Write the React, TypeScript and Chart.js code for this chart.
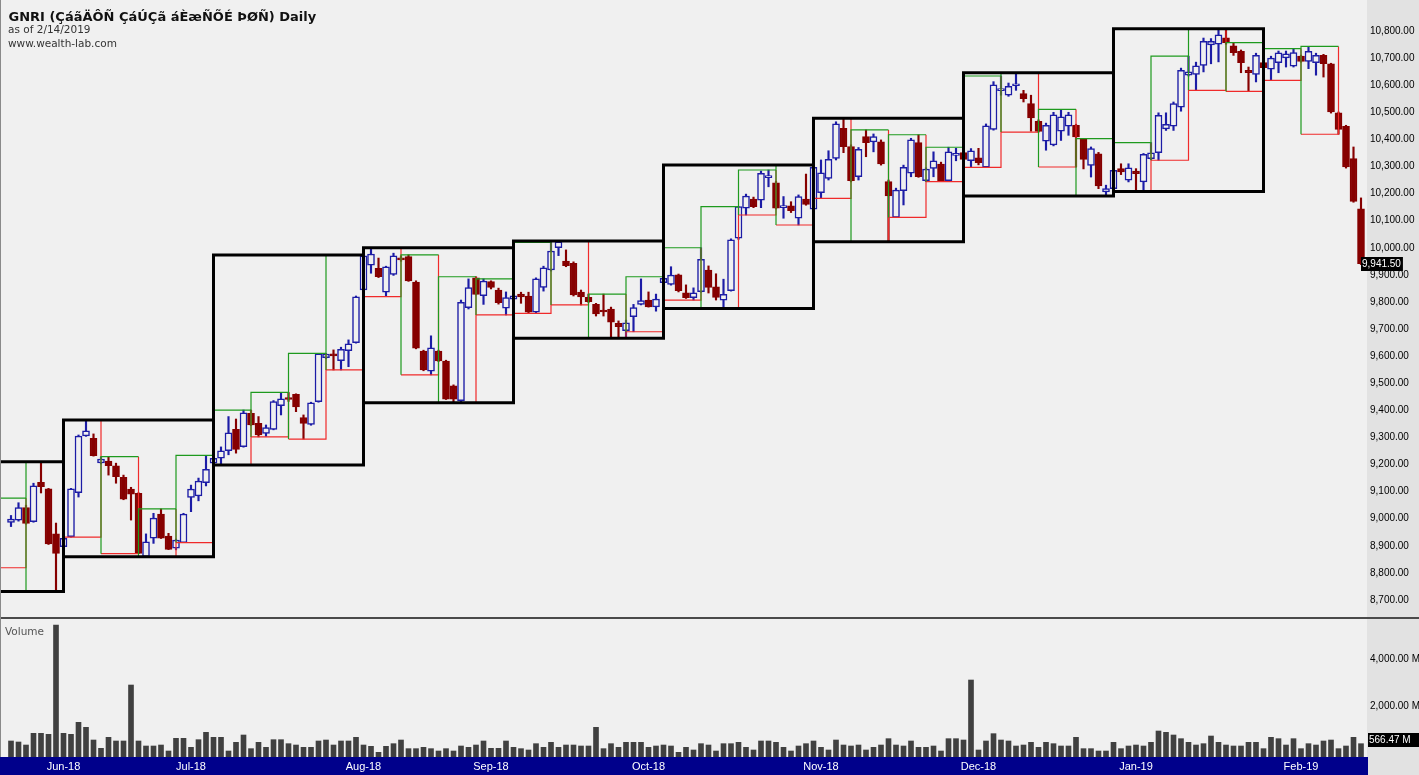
import React, { useEffect, useRef } from "react";
import { Chart, registerables } from "chart.js";

Chart.register(...registerables);

// ---------------- data ----------------
const opens = [
  8986, 8995, 9041, 8989, 9134, 9110, 8944, 8897, 8934, 9096,
  9306, 9297, 9206, 9213, 9195, 9153, 9109, 9094, 8860, 8928,
  9017, 8936, 8891, 8912, 9079, 9084, 9133, 9205, 9223, 9251,
  9330, 9266, 9389, 9352, 9315, 9330, 9417, 9441, 9459, 9373,
  9348, 9432, 9594, 9608, 9583, 9620, 9650, 9844, 9936, 9924,
  9836, 9902, 9961, 9967, 9873, 9619, 9545, 9619, 9582, 9490,
  9436, 9779, 9889, 9823, 9875, 9844, 9777, 9810, 9829, 9822,
  9762, 9854, 9918, 10000, 9951, 9943, 9836, 9817, 9791, 9767,
  9774, 9721, 9694, 9746, 9791, 9807, 9782, 9871, 9865, 9900,
  9834, 9816, 9838, 9918, 9856, 9807, 9842, 10035, 10146, 10180,
  10176, 10259, 10240, 10148, 10155, 10109, 10180, 10142, 10203, 10256,
  10330, 10441, 10373, 10262, 10410, 10391, 10391, 10244, 10112, 10211,
  10275, 10388, 10248, 10293, 10309, 10248, 10341, 10351, 10321, 10332,
  10297, 10437, 10580, 10563, 10598, 10569, 10532, 10467, 10393, 10380,
  10430, 10449, 10452, 10400, 10304, 10347, 10206, 10218, 10292, 10249,
  10283, 10243, 10329, 10351, 10439, 10449, 10519, 10637, 10640, 10673,
  10749, 10751, 10775, 10745, 10725, 10655, 10640, 10683, 10659, 10683,
  10701, 10670, 10707, 10688, 10683, 10710, 10679, 10498, 10448, 10329, 10144,
];
const highs = [
  9012, 9059, 9050, 9131, 9210, 9112, 8984, 8932, 9112, 9309,
  9364, 9313, 9228, 9229, 9205, 9161, 9116, 9096, 8944, 9020,
  9036, 8946, 8925, 9020, 9124, 9150, 9234, 9228, 9265, 9377,
  9368, 9401, 9401, 9377, 9346, 9436, 9464, 9466, 9461, 9383,
  9430, 9610, 9610, 9623, 9633, 9660, 9822, 9973, 10000, 9962,
  9932, 9980, 9970, 9974, 9878, 9622, 9675, 9622, 9585, 9494,
  9807, 9885, 9893, 9885, 9878, 9851, 9837, 9827, 9836, 9836,
  9889, 9932, 10020, 10025, 9992, 9948, 9844, 9829, 9795, 9829,
  9781, 9730, 9733, 9791, 9885, 9837, 9829, 9893, 9930, 9903,
  9863, 9852, 10000, 9933, 9904, 9884, 10033, 10152, 10198, 10187,
  10283, 10287, 10246, 10189, 10170, 10195, 10272, 10305, 10324, 10358,
  10465, 10478, 10380, 10370, 10435, 10420, 10398, 10250, 10220, 10305,
  10404, 10417, 10295, 10354, 10316, 10371, 10367, 10362, 10366, 10367,
  10457, 10613, 10634, 10608, 10646, 10581, 10563, 10472, 10460, 10500,
  10511, 10500, 10456, 10403, 10372, 10352, 10231, 10290, 10310, 10310,
  10292, 10348, 10388, 10498, 10498, 10538, 10663, 10707, 10685, 10774,
  10772, 10804, 10808, 10757, 10730, 10667, 10718, 10692, 10707, 10726,
  10726, 10735, 10711, 10743, 10718, 10714, 10681, 10501, 10452, 10372, 10184,
];
const lows = [
  8971, 8991, 8980, 8987, 9095, 8905, 8731, 8892, 8932, 9080,
  9304, 9231, 9202, 9161, 9131, 9070, 8995, 8871, 8860, 8909,
  8927, 8886, 8885, 8912, 9026, 9066, 9121, 9202, 9198, 9236,
  9242, 9264, 9344, 9302, 9304, 9328, 9383, 9433, 9395, 9294,
  9345, 9430, 9590, 9549, 9549, 9561, 9648, 9840, 9906, 9890,
  9820, 9898, 9950, 9876, 9627, 9546, 9531, 9580, 9440, 9432,
  9428, 9774, 9826, 9791, 9848, 9792, 9752, 9803, 9795, 9758,
  9760, 9840, 9914, 9971, 9930, 9822, 9789, 9798, 9748, 9748,
  9668, 9670, 9666, 9690, 9789, 9781, 9766, 9865, 9862, 9837,
  9813, 9807, 9836, 9833, 9807, 9776, 9840, 10031, 10121, 10148,
  10148, 10225, 10143, 10109, 10130, 10084, 10157, 10140, 10182, 10250,
  10324, 10351, 10243, 10250, 10336, 10354, 10305, 10022, 10112, 10158,
  10262, 10260, 10244, 10262, 10244, 10246, 10321, 10322, 10297, 10306,
  10297, 10434, 10563, 10559, 10581, 10538, 10430, 10427, 10360, 10376,
  10396, 10415, 10298, 10291, 10261, 10218, 10191, 10212, 10270, 10243,
  10212, 10208, 10325, 10323, 10433, 10433, 10504, 10634, 10581, 10649,
  10679, 10686, 10751, 10710, 10646, 10577, 10612, 10661, 10618, 10646,
  10667, 10667, 10685, 10661, 10637, 10630, 10497, 10419, 10294, 10168, 9938,
];
const closes = [
  8999, 9041, 8983, 9121, 9118, 8907, 8872, 8928, 9110, 9305,
  9324, 9233, 9220, 9196, 9155, 9072, 9091, 8872, 8915, 9002,
  8928, 8887, 8921, 9017, 9109, 9139, 9182, 9223, 9251, 9317,
  9256, 9391, 9346, 9309, 9336, 9432, 9442, 9440, 9413, 9352,
  9428, 9609, 9608, 9601, 9625, 9645, 9819, 9970, 9977, 9893,
  9930, 9970, 9955, 9878, 9629, 9549, 9631, 9582, 9441, 9441,
  9799, 9853, 9828, 9877, 9854, 9797, 9816, 9823, 9819, 9762,
  9885, 9926, 9988, 10022, 9934, 9826, 9819, 9801, 9756, 9763,
  9725, 9709, 9723, 9779, 9805, 9782, 9811, 9887, 9899, 9842,
  9816, 9834, 9957, 9854, 9817, 9828, 10029, 10152, 10191, 10152,
  10275, 10262, 10146, 10150, 10137, 10189, 10160, 10297, 10277, 10326,
  10457, 10373, 10248, 10363, 10388, 10410, 10309, 10191, 10213, 10297,
  10398, 10262, 10290, 10321, 10248, 10354, 10342, 10326, 10358, 10314,
  10450, 10601, 10582, 10596, 10600, 10550, 10479, 10429, 10452, 10491,
  10483, 10491, 10409, 10326, 10366, 10228, 10218, 10286, 10280, 10295,
  10273, 10345, 10350, 10489, 10456, 10532, 10655, 10649, 10671, 10762,
  10762, 10786, 10757, 10720, 10683, 10646, 10710, 10665, 10700, 10719,
  10716, 10720, 10688, 10725, 10710, 10679, 10501, 10437, 10298, 10171, 9941.5,
];
// volume in millions
const volumes = [
  681, 638, 510, 1007, 1007, 964, 5616, 1007, 964, 1475,
  1262, 723, 369, 837, 681, 681, 3063, 681, 468, 468,
  510, 255, 794, 794, 411, 737, 1049, 837, 837, 255,
  624, 936, 355, 624, 411, 737, 737, 567, 510, 411,
  411, 681, 723, 510, 681, 681, 837, 510, 454, 199,
  454, 567, 723, 355, 355, 411, 355, 255, 355, 255,
  468, 411, 510, 681, 369, 369, 681, 411, 355, 298,
  567, 411, 624, 411, 510, 510, 468, 468, 1262, 355,
  567, 411, 624, 624, 624, 411, 468, 510, 468, 199,
  411, 298, 567, 510, 255, 567, 567, 624, 411, 298,
  681, 681, 624, 411, 255, 468, 567, 681, 411, 298,
  723, 510, 468, 510, 298, 411, 510, 780, 510, 468,
  681, 411, 411, 468, 255, 780, 780, 723, 3276, 298,
  681, 993, 723, 681, 468, 510, 624, 411, 624, 567,
  468, 468, 837, 355, 355, 255, 255, 624, 355, 468,
  510, 468, 624, 1106, 1049, 936, 780, 624, 510, 567,
  893, 624, 510, 468, 468, 624, 624, 355, 837, 780,
  510, 780, 355, 567, 510, 681, 723, 355, 468, 837, 566.47,
];
// highs / lows of the two sessions just before the first bar shown
const preWindowHighs = [9076, 9030];
const preWindowLows = [8870, 8819];

const monthLabels = ["Jun-18", "Jul-18", "Aug-18", "Sep-18", "Oct-18", "Nov-18", "Dec-18", "Jan-19", "Feb-19"];
const monthStartBars = [7, 24, 47, 64, 85, 108, 129, 150, 172];
const priceTicks = [
  8700, 8800, 8900, 9000, 9100, 9200, 9300, 9400, 9500, 9600, 9700,
  9800, 9900, 10000, 10100, 10200, 10300, 10400, 10500, 10600, 10700, 10800,
];
const volumeTicks = [2000, 4000];

const titleText = "GNRI (ÇáãÄÔÑ ÇáÚÇã áÈæÑÕÉ ÞØÑ) Daily";
const asOfText = "as of 2/14/2019";
const siteText = "www.wealth-lab.com";

// ---------------- layout / style ----------------
const W = 1419;
const PRICE_H = 620;
const VOL_H = 155;
const AXIS_W = 52;
const BAND_H = 18;
const X_MIN = -1.467;
const X_MAX = 180.8;
const PRICE_MIN = 8626.2;
const PRICE_MAX = 10914.4;
const VOL_MAX = 5830;
const WEEK_LEN = 5;
const WEEK_ANCHOR = 2;
const MONTH_LEN = 20;
const MONTH_ANCHOR = 7;

const PANEL_BG = "#f0f0f0";
const AXIS_BG = "#e2e2e2";
const BAND_BG = "#00008b";
const UP = "#1c1ca6";
const DOWN = "#860000";
const GREEN = "#1e9a1e";
const RED = "#f02a2a";
const AXIS_FONT = "'Liberation Sans', Arial, sans-serif";
const TEXT_FONT = "'DejaVu Sans', sans-serif";

const fmt2 = (v: number) =>
  v.toLocaleString("en-US", { minimumFractionDigits: 2, maximumFractionDigits: 2 });

function highLow(from: number, to: number) {
  let h = -Infinity;
  let l = Infinity;
  for (let b = from; b <= to; b++) {
    let hb: number | undefined;
    let lb: number | undefined;
    if (b < 0) {
      const k = b + preWindowHighs.length;
      if (k < 0) continue;
      hb = preWindowHighs[k];
      lb = preWindowLows[k];
    } else if (b < highs.length) {
      hb = highs[b];
      lb = lows[b];
    } else continue;
    h = Math.max(h, hb);
    l = Math.min(l, lb);
  }
  return { h, l };
}

function buildBoxes() {
  const last = closes.length - 1;
  const green: any[] = [];
  const red: any[] = [];
  const black: any[] = [];
  for (let e = WEEK_ANCHOR; e <= last; e += WEEK_LEN) {
    const s = e - WEEK_LEN;
    const { h, l } = highLow(s + 1, e);
    green.push({ x: s, y: l }, { x: s, y: h }, { x: e, y: h }, { x: e, y: null });
    red.push({ x: s, y: l }, { x: e, y: l }, { x: e, y: h }, { x: e, y: null });
  }
  for (let e = MONTH_ANCHOR; e <= last; e += MONTH_LEN) {
    const s = e - MONTH_LEN;
    const { h, l } = highLow(s + 1, e);
    black.push(
      { x: s, y: l }, { x: s, y: h }, { x: e, y: h }, { x: e, y: l }, { x: s, y: l }, { x: e, y: null }
    );
  }
  return { green, red, black };
}

const noPad = (s: any) => {
  s.paddingTop = 0;
  s.paddingBottom = 0;
  s.paddingLeft = 0;
  s.paddingRight = 0;
};

export default function App() {
  const priceRef = useRef<HTMLCanvasElement>(null);
  const volRef = useRef<HTMLCanvasElement>(null);

  useEffect(() => {
    const idx = closes.map((_, i) => i);
    const isUp = idx.map((i) => closes[i] >= opens[i]);
    const { green, red, black } = buildBoxes();

    const pricePanel = {
      id: "pricePanel",
      beforeDraw(chart: any) {
        const { ctx, chartArea, width, height } = chart;
        ctx.save();
        ctx.fillStyle = PANEL_BG;
        ctx.fillRect(0, 0, chartArea.right, height);
        ctx.fillStyle = AXIS_BG;
        ctx.fillRect(chartArea.right, 0, width - chartArea.right, height);
        ctx.restore();
      },
      afterDraw(chart: any) {
        const { ctx, chartArea, width, height, scales } = chart;
        const lastClose = closes[closes.length - 1];
        const y = scales.y.getPixelForValue(lastClose);
        const txt = fmt2(lastClose);
        ctx.save();
        ctx.font = `10px ${AXIS_FONT}`;
        const tw = ctx.measureText(txt).width;
        ctx.fillStyle = "#000";
        ctx.fillRect(chartArea.right - 6, Math.round(y) - 7, tw + 3, 14);
        ctx.fillStyle = "#fff";
        ctx.textBaseline = "middle";
        ctx.fillText(txt, chartArea.right - 5, Math.round(y));
        ctx.fillStyle = "#4a4a4a";
        ctx.fillRect(0, height - 3, width, 2);
        ctx.fillStyle = "#8a8a8a";
        ctx.fillRect(0, 0, 1, height);
        ctx.restore();
      },
    };

    const volPanel = {
      id: "volPanel",
      beforeDraw(chart: any) {
        const { ctx, chartArea, width, height } = chart;
        ctx.save();
        ctx.fillStyle = PANEL_BG;
        ctx.fillRect(0, 0, chartArea.right, chartArea.bottom);
        ctx.fillStyle = AXIS_BG;
        ctx.fillRect(chartArea.right, 0, width - chartArea.right, height);
        ctx.fillStyle = BAND_BG;
        ctx.fillRect(0, chartArea.bottom, chartArea.right + 1, height - chartArea.bottom);
        ctx.restore();
      },
      afterDraw(chart: any) {
        const { ctx, chartArea, width, scales } = chart;
        const lastVol = volumes[volumes.length - 1];
        const y = Math.round(scales.y.getPixelForValue(lastVol)) - 4;
        const txt = fmt2(lastVol) + " M";
        ctx.save();
        ctx.font = `10px ${AXIS_FONT}`;
        ctx.fillStyle = "#000";
        ctx.fillRect(chartArea.right + 1, y - 7, width - chartArea.right, 14);
        ctx.fillStyle = "#fff";
        ctx.textBaseline = "middle";
        ctx.fillText(txt, chartArea.right + 2, y);
        ctx.fillStyle = "#8a8a8a";
        ctx.fillRect(0, 0, 1, chartArea.bottom);
        ctx.restore();
      },
    };

    const priceChart = new Chart(priceRef.current as HTMLCanvasElement, {
      type: "bar",
      data: {
        datasets: [
          {
            type: "line",
            label: "monthly",
            data: black,
            borderColor: "#000",
            borderWidth: 3,
            pointRadius: 0,
            spanGaps: false,
            borderJoinStyle: "miter",
            borderCapStyle: "square",
            order: 0,
          } as any,
          {
            type: "line",
            label: "weekly high",
            data: green,
            borderColor: GREEN,
            borderWidth: 1.2,
            pointRadius: 0,
            spanGaps: false,
            order: 1,
          } as any,
          {
            type: "line",
            label: "weekly low",
            data: red,
            borderColor: RED,
            borderWidth: 1.2,
            pointRadius: 0,
            spanGaps: false,
            order: 2,
          } as any,
          {
            type: "bar",
            label: "body",
            data: idx.map((i) => ({ x: i, y: [opens[i], closes[i]] })),
            backgroundColor: idx.map((i) => (isUp[i] ? PANEL_BG : DOWN)),
            borderColor: idx.map((i) => (isUp[i] ? UP : DOWN)),
            borderWidth: 1.5,
            borderSkipped: false,
            barThickness: 7,
            minBarLength: 2,
            grouped: false,
            order: 3,
          } as any,
          {
            type: "bar",
            label: "wick",
            data: idx.map((i) => ({ x: i, y: [lows[i], highs[i]] })),
            backgroundColor: idx.map((i) => (isUp[i] ? UP : DOWN)),
            borderWidth: 0,
            barThickness: 1.5,
            grouped: false,
            order: 4,
          } as any,
        ],
      },
      options: {
        animation: false,
        responsive: false,
        maintainAspectRatio: false,
        events: [],
        layout: { padding: 0 },
        plugins: { legend: { display: false }, tooltip: { enabled: false } },
        scales: {
          x: {
            type: "linear",
            min: X_MIN,
            max: X_MAX,
            display: false,
            offset: false,
            afterFit: noPad,
          },
          y: {
            type: "linear",
            position: "right",
            min: PRICE_MIN,
            max: PRICE_MAX,
            grid: { display: false, drawTicks: false },
            border: { display: false },
            afterFit: (s: any) => {
              s.width = AXIS_W;
              noPad(s);
            },
            afterBuildTicks: (s: any) => {
              s.ticks = priceTicks.map((v) => ({ value: v }));
            },
            ticks: {
              padding: 3,
              color: "#000",
              font: { family: AXIS_FONT, size: 10 },
              callback: (v: any) => fmt2(Number(v)),
            },
          },
        },
      } as any,
      plugins: [pricePanel],
    });

    const volChart = new Chart(volRef.current as HTMLCanvasElement, {
      type: "bar",
      data: {
        datasets: [
          {
            label: "Volume",
            data: idx.map((i) => ({ x: i, y: volumes[i] })),
            backgroundColor: "#404040",
            borderWidth: 0,
            barThickness: 5,
            grouped: false,
          } as any,
        ],
      },
      options: {
        animation: false,
        responsive: false,
        maintainAspectRatio: false,
        events: [],
        layout: { padding: 0 },
        plugins: { legend: { display: false }, tooltip: { enabled: false } },
        scales: {
          x: {
            type: "linear",
            min: X_MIN,
            max: X_MAX,
            offset: false,
            position: "bottom",
            grid: { display: false, drawTicks: false },
            border: { display: false },
            afterFit: (s: any) => {
              s.height = BAND_H;
              noPad(s);
            },
            afterBuildTicks: (s: any) => {
              s.ticks = monthStartBars.map((v) => ({ value: v }));
            },
            ticks: {
              autoSkip: false,
              maxRotation: 0,
              minRotation: 0,
              padding: 3,
              color: "#ffffff",
              font: { family: AXIS_FONT, size: 11 },
              callback: (v: any) => {
                const k = monthStartBars.indexOf(Number(v));
                return k >= 0 ? monthLabels[k] : "";
              },
            },
          },
          y: {
            type: "linear",
            position: "right",
            min: 0,
            max: VOL_MAX,
            grid: { display: false, drawTicks: false },
            border: { display: false },
            afterFit: (s: any) => {
              s.width = AXIS_W;
              noPad(s);
            },
            afterBuildTicks: (s: any) => {
              s.ticks = volumeTicks.map((v) => ({ value: v }));
            },
            ticks: {
              padding: 3,
              labelOffset: -4,
              color: "#000",
              font: { family: AXIS_FONT, size: 10 },
              callback: (v: any) => fmt2(Number(v)) + " M",
            },
          },
        },
      } as any,
      plugins: [volPanel],
    });

    return () => {
      priceChart.destroy();
      volChart.destroy();
    };
  }, []);

  return (
    <div
      style={{
        position: "fixed",
        left: 0,
        top: 0,
        width: W,
        height: PRICE_H + VOL_H,
        background: PANEL_BG,
        overflow: "hidden",
      }}
    >
      <canvas
        ref={priceRef}
        width={W}
        height={PRICE_H}
        style={{ position: "absolute", left: 0, top: 0, width: W, height: PRICE_H }}
      />
      <canvas
        ref={volRef}
        width={W}
        height={VOL_H}
        style={{ position: "absolute", left: 0, top: PRICE_H, width: W, height: VOL_H }}
      />
      <div
        style={{
          position: "absolute",
          left: 8.5,
          top: 9.5,
          font: `bold 13px ${TEXT_FONT}`,
          lineHeight: "13px",
          color: "#111",
          whiteSpace: "nowrap",
        }}
      >
        {titleText}
      </div>
      <div
        style={{
          position: "absolute",
          left: 8,
          top: 24.4,
          font: `10.5px ${TEXT_FONT}`,
          lineHeight: "10.5px",
          color: "#333",
          whiteSpace: "nowrap",
        }}
      >
        {asOfText}
      </div>
      <div
        style={{
          position: "absolute",
          left: 8,
          top: 37.8,
          font: `10.5px ${TEXT_FONT}`,
          lineHeight: "10.5px",
          color: "#333",
          whiteSpace: "nowrap",
        }}
      >
        {siteText}
      </div>
      <div
        style={{
          position: "absolute",
          left: 5,
          top: 626,
          font: `10.5px ${TEXT_FONT}`,
          lineHeight: "10.5px",
          color: "#555",
          whiteSpace: "nowrap",
        }}
      >
        Volume
      </div>
    </div>
  );
}
